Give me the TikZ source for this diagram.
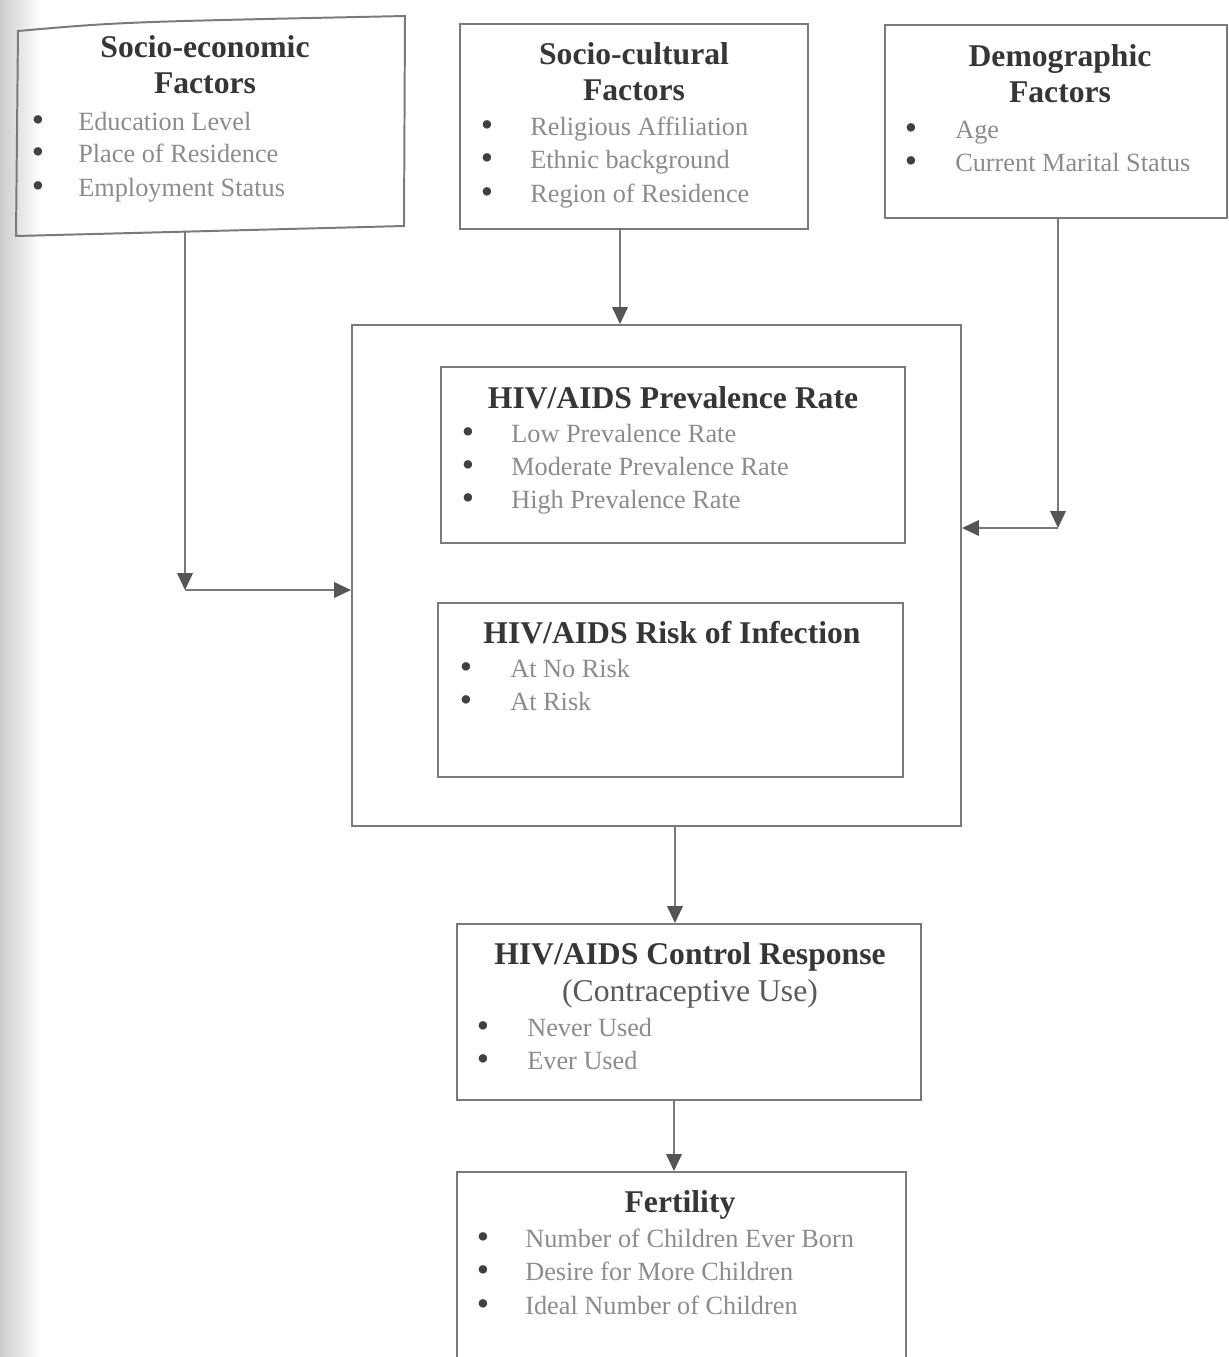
\documentclass[tikz,border=0pt]{standalone}
\usepackage{fontspec}
\setmainfont{Liberation Serif}
\usetikzlibrary{arrows.meta}
\definecolor{linegray}{HTML}{7A7A7A}
\definecolor{headgray}{HTML}{555555}
\definecolor{titlecol}{HTML}{363636}
\definecolor{itemcol}{HTML}{8C8C8C}
\definecolor{bulcol}{HTML}{404040}
\definecolor{subcol}{HTML}{5A5A5A}
\tikzset{
  box/.style={draw=linegray, line width=1.4pt, inner sep=0pt},
  ghost/.style={inner sep=0pt},
  ttl/.style={font=\fontsize{22.5}{27}\selectfont\bfseries, text=titlecol, inner sep=0pt, anchor=base},
  sub/.style={font=\fontsize{22.5}{27}\selectfont, text=subcol, inner sep=0pt, anchor=base},
  itm/.style={font=\fontsize{18.7}{23}\selectfont, text=itemcol, inner sep=0pt, anchor=base west},
  bul/.style={font=\fontsize{25}{28}\selectfont, text=bulcol, inner sep=0pt, anchor=base},
  arr/.style={draw=linegray, line width=1.4pt, -{Triangle[length=12pt,width=11pt,color=headgray]}}
}
\begin{document}
\begin{tikzpicture}[x=0.025cm, y=-0.025cm]
\useasboundingbox (0,0) rectangle (1229,1357);
\clip (0,0) rectangle (1229,1357);
\fill[white] (0,0) rectangle (1229,1357);
\shade[left color=black!20, right color=white] (0,0) rectangle (40,1357);

% ---- boxes ----
\node[ghost, minimum width=387*0.025cm, minimum height=209*0.025cm] (se) at (210.5,126.5) {};
\draw[linegray, line width=1.4pt] (18,31) .. controls (120,22) .. (405,16) -- (404,226) -- (16,236) -- cycle;
\node[box, minimum width=348*0.025cm, minimum height=205*0.025cm] (sc) at (634,126.5) {};
\node[box, minimum width=342*0.025cm, minimum height=193*0.025cm] (dm) at (1056,121.5) {};
\node[box, minimum width=609*0.025cm, minimum height=501*0.025cm] (big) at (656.5,575.5) {};
\node[box, minimum width=464*0.025cm, minimum height=176*0.025cm] (prev) at (673,455) {};
\node[box, minimum width=465*0.025cm, minimum height=174*0.025cm] (risk) at (670.5,690) {};
\node[box, minimum width=464*0.025cm, minimum height=176*0.025cm] (ctrl) at (689,1012) {};
\node[box, minimum width=449*0.025cm, minimum height=218*0.025cm] (fert) at (681.5,1281) {};

% ---- texts: socio-economic ----
\node[ttl] (se1) at (205,57) {Socio-economic};
\node[ttl] (se2) at (205,93) {Factors};
\node[bul] (seb1) at (38,131) {•}; \node[itm] (sei1) at (78,130) {Education Level};
\node[bul] (seb2) at (38,163) {•}; \node[itm] (sei2) at (78,162) {Place of Residence};
\node[bul] (seb3) at (38,197) {•}; \node[itm] (sei3) at (78,196) {Employment Status};

% ---- socio-cultural ----
\node[ttl] (sc1) at (634,64) {Socio-cultural};
\node[ttl] (sc2) at (634,100) {Factors};
\node[bul] (scb1) at (487,136) {•}; \node[itm] (sci1) at (530,135) {Religious Affiliation};
\node[bul] (scb2) at (487,169) {•}; \node[itm] (sci2) at (530,168) {Ethnic background};
\node[bul] (scb3) at (487,203) {•}; \node[itm] (sci3) at (530,202) {Region of Residence};

% ---- demographic ----
\node[ttl] (dm1) at (1060,66) {Demographic};
\node[ttl] (dm2) at (1060,102) {Factors};
\node[bul] (dmb1) at (911,139) {•}; \node[itm] (dmi1) at (955,138) {Age};
\node[bul] (dmb2) at (911,172) {•}; \node[itm] (dmi2) at (955,171) {Current Marital Status};

% ---- prevalence ----
\node[ttl] (pv1) at (673,408) {HIV/AIDS Prevalence Rate};
\node[bul] (pvb1) at (468,443) {•}; \node[itm] (pvi1) at (511,442) {Low Prevalence Rate};
\node[bul] (pvb2) at (468,476) {•}; \node[itm] (pvi2) at (511,475) {Moderate Prevalence Rate};
\node[bul] (pvb3) at (468,509) {•}; \node[itm] (pvi3) at (511,508) {High Prevalence Rate};

% ---- risk ----
\node[ttl] (rk1) at (672,643) {HIV/AIDS Risk of Infection};
\node[bul] (rkb1) at (466,678) {•}; \node[itm] (rki1) at (510,677) {At No Risk};
\node[bul] (rkb2) at (466,711) {•}; \node[itm] (rki2) at (510,710) {At Risk};

% ---- control ----
\node[ttl] (ct1) at (690,964) {HIV/AIDS Control Response};
\node[sub] (ct2) at (690,1001) {(Contraceptive Use)};
\node[bul] (ctb1) at (483,1037) {•}; \node[itm] (cti1) at (527,1036) {Never Used};
\node[bul] (ctb2) at (483,1070) {•}; \node[itm] (cti2) at (527,1069) {Ever Used};

% ---- fertility ----
\node[ttl] (ft1) at (680,1212) {Fertility};
\node[bul] (ftb1) at (483,1248) {•}; \node[itm] (fti1) at (525,1247) {Number of Children Ever Born};
\node[bul] (ftb2) at (483,1281) {•}; \node[itm] (fti2) at (525,1280) {Desire for More Children};
\node[bul] (ftb3) at (483,1315) {•}; \node[itm] (fti3) at (525,1314) {Ideal Number of Children};

% ---- connectors ----
\coordinate (a1) at (185,590);
\coordinate (a2) at (1058,528);
\coordinate (m1) at (620,0);
\coordinate (m2) at (675,0);
\coordinate (m3) at (674,0);
\draw[arr] (se.south -| a1) -- (a1);
\draw[arr] (a1) -- (big.west |- a1);
\draw[arr] (dm.south -| a2) -- (a2);
\draw[arr] (a2) -- (big.east |- a2);
\draw[arr] (sc.south -| m1) -- (big.north -| m1);
\draw[arr] (big.south -| m2) -- (ctrl.north -| m2);
\draw[arr] (ctrl.south -| m3) -- (fert.north -| m3);
\end{tikzpicture}
\end{document}
